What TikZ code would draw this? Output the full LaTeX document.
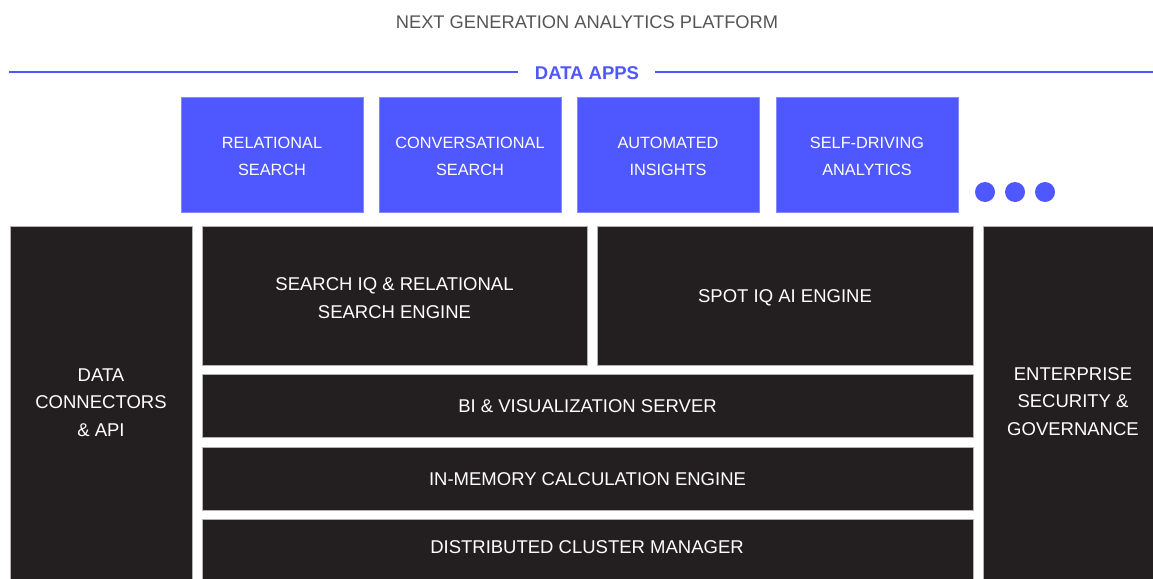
\documentclass[tikz,border=0pt]{standalone}
\usepackage{fontspec}
\setmainfont{Liberation Sans}
\definecolor{appblue}{HTML}{4F57FF}
\definecolor{darkbox}{HTML}{231F20}
\definecolor{titlegray}{HTML}{555555}
\begin{document}
\begin{tikzpicture}[x=1pt,y=-1pt,
  appbox/.style={fill=appblue,draw=appblue!70!white,line width=0.6pt,text=white,align=center,font=\fontsize{16.3}{27}\selectfont},
  layerbox/.style={fill=darkbox,draw=gray!60,line width=0.6pt,text=white,align=center,font=\fontsize{18.5}{28}\selectfont},
  layertext/.style={text=white,align=center,font=\fontsize{18.5}{27.5}\selectfont},
  dot/.style={circle,fill=appblue,minimum size=20pt,inner sep=0pt},
  bandline/.style={draw=appblue,line width=2.2pt}]
\useasboundingbox[fill=white] (0,0) rectangle (1153,578);
\node[text=titlegray,font=\fontsize{18.3}{20}\selectfont] (title) at (587,22) {NEXT GENERATION ANALYTICS PLATFORM};
\node[text=appblue,font=\bfseries\fontsize{18.5}{20}\selectfont] (dataapps) at (587,73.5) {DATA APPS};
\coordinate (lineL) at (9,72);
\coordinate (lineR) at (1153,72);
\coordinate (gapL) at (518,72);
\coordinate (gapR) at (655,72);
\draw[bandline] (lineL) -- (gapL);
\draw[bandline] (gapR) -- (lineR);
% app boxes
\path[appbox] (181,97) rectangle (363,212) node[pos=.5,yshift=-2pt] (a1) {RELATIONAL\\SEARCH};
\path[appbox] (379,97) rectangle (561,212) node[pos=.5,yshift=-2pt] (a2) {CONVERSATIONAL\\SEARCH};
\path[appbox] (577,97) rectangle (759,212) node[pos=.5,yshift=-2pt] (a3) {AUTOMATED\\INSIGHTS};
\path[appbox] (776,97) rectangle (958,212) node[pos=.5,yshift=-2pt] (a4) {SELF-DRIVING\\ANALYTICS};
\node[dot] (d1) at (985,192) {};
\node[dot] (d2) at (1015,192) {};
\node[dot] (d3) at (1045,192) {};
% layers
\path[layerbox] (10,226) rectangle (192,584);
\node[layertext] (conntext) at (101,402.5) {DATA\\CONNECTORS\\\& API};
\path[layerbox] (983,226) rectangle (1160,584);
\node[layertext] (sec) at (1073,401.5) {ENTERPRISE\\SECURITY \&\\GOVERNANCE};
\path[layerbox] (202,226) rectangle (587,365) node[pos=.5,yshift=-2.5pt] (siq) {SEARCH IQ \& RELATIONAL\\SEARCH ENGINE};
\path[layerbox] (597,226) rectangle (973,365) node[pos=.5,yshift=-2.5pt] (spot) {SPOT IQ AI ENGINE};
\path[layerbox] (202,374) rectangle (973,437) node[pos=.5,yshift=-0.5pt] (bi) {BI \& VISUALIZATION SERVER};
\path[layerbox] (202,447) rectangle (973,510) node[pos=.5,yshift=-0.5pt] (mem) {IN-MEMORY CALCULATION ENGINE};
\path[layerbox] (202,519) rectangle (973,584);
\node[layertext] (dcm) at (587,547.5) {DISTRIBUTED CLUSTER MANAGER};
\end{tikzpicture}
\end{document}
